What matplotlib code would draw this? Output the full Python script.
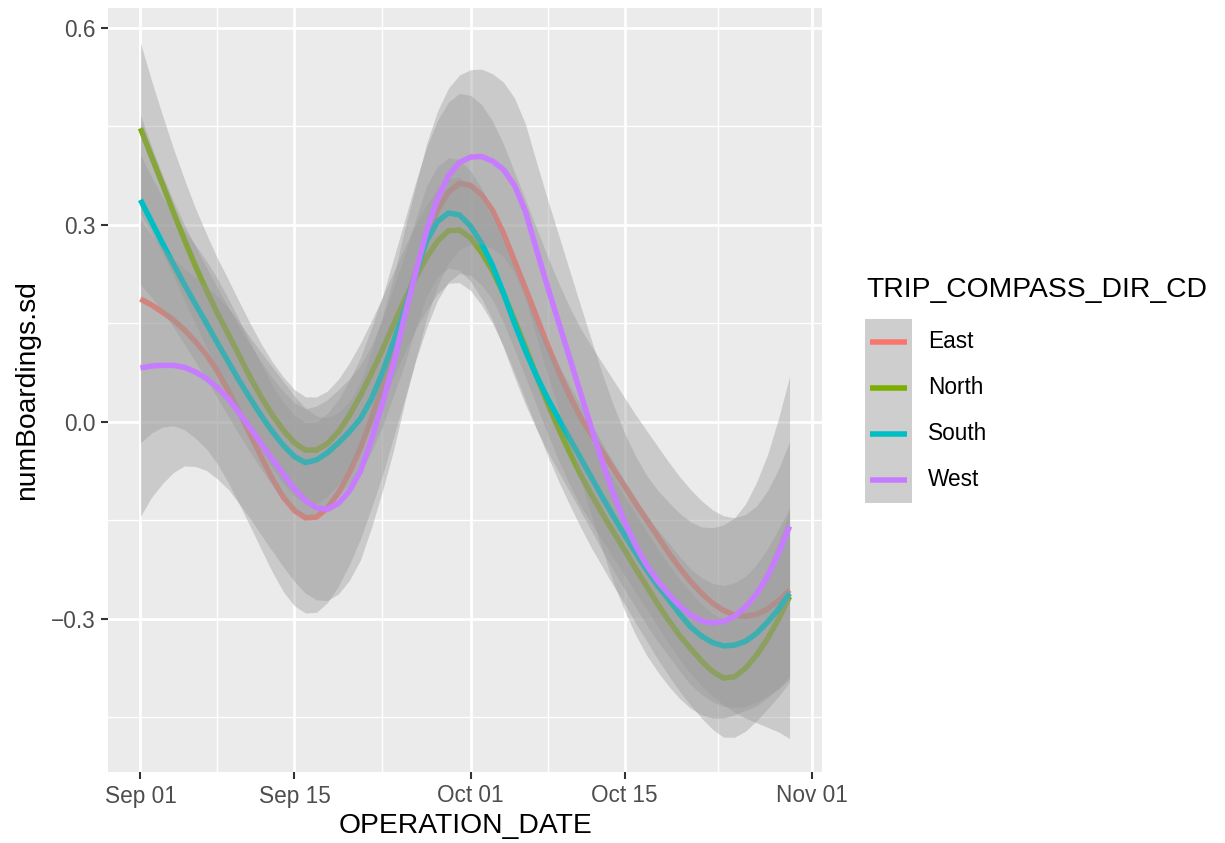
import numpy as np
import matplotlib.pyplot as plt
import matplotlib.dates as mdates
from matplotlib.patches import Rectangle

plt.rcParams['font.family'] = ['Liberation Sans', 'DejaVu Sans']

# one value per day, Sep 01 .. Oct 30
days = np.arange(60)

directions = ['East', 'North', 'South', 'West']
colors = ['#F8766D', '#7CAE00', '#00BFC4', '#C77CFF']

# loess fit of numBoardings.sd per direction
east_fit = [0.187, 0.178, 0.167, 0.155, 0.140, 0.122, 0.102, 0.077, 0.047, 0.014,
            -0.020, -0.054, -0.087, -0.115, -0.135, -0.146, -0.145, -0.131, -0.108, -0.077,
            -0.040, 0.006, 0.055, 0.112, 0.170, 0.228, 0.280, 0.322, 0.350, 0.363,
            0.360, 0.346, 0.322, 0.287, 0.245, 0.203, 0.160, 0.117, 0.077, 0.040,
            0.007, -0.020, -0.046, -0.072, -0.098, -0.124, -0.149, -0.174, -0.199, -0.222,
            -0.243, -0.261, -0.276, -0.287, -0.294, -0.296, -0.293, -0.285, -0.272, -0.256]
north_fit = [0.447, 0.404, 0.362, 0.319, 0.277, 0.237, 0.200, 0.165, 0.133, 0.100,
             0.067, 0.037, 0.010, -0.013, -0.032, -0.043, -0.043, -0.033, -0.015, 0.010,
             0.040, 0.074, 0.110, 0.148, 0.185, 0.220, 0.250, 0.275, 0.291, 0.292,
             0.280, 0.258, 0.230, 0.195, 0.155, 0.113, 0.070, 0.029, -0.010, -0.046,
             -0.080, -0.111, -0.140, -0.168, -0.195, -0.223, -0.250, -0.277, -0.302, -0.325,
             -0.345, -0.364, -0.380, -0.390, -0.388, -0.375, -0.355, -0.330, -0.300, -0.266]
south_fit = [0.338, 0.305, 0.272, 0.240, 0.209, 0.179, 0.150, 0.120, 0.091, 0.062,
             0.035, 0.009, -0.015, -0.036, -0.053, -0.062, -0.058, -0.047, -0.032, -0.015,
             0.005, 0.035, 0.075, 0.122, 0.170, 0.225, 0.275, 0.305, 0.318, 0.315,
             0.298, 0.272, 0.238, 0.196, 0.150, 0.108, 0.070, 0.036, 0.005, -0.025,
             -0.055, -0.085, -0.115, -0.144, -0.172, -0.199, -0.225, -0.249, -0.270, -0.292,
             -0.312, -0.326, -0.336, -0.341, -0.340, -0.334, -0.322, -0.305, -0.285, -0.261]
west_fit = [0.082, 0.085, 0.086, 0.086, 0.083, 0.076, 0.066, 0.052, 0.035, 0.013,
            -0.010, -0.034, -0.057, -0.080, -0.102, -0.120, -0.131, -0.133, -0.124, -0.105,
            -0.075, -0.027, 0.028, 0.088, 0.160, 0.226, 0.290, 0.340, 0.375, 0.395,
            0.403, 0.404, 0.397, 0.384, 0.360, 0.320, 0.262, 0.206, 0.152, 0.098,
            0.044, -0.010, -0.062, -0.110, -0.152, -0.188, -0.218, -0.242, -0.262, -0.280,
            -0.294, -0.303, -0.306, -0.304, -0.296, -0.282, -0.262, -0.235, -0.200, -0.159]

# half width of the 95% confidence band
east_ci = [0.219, 0.195, 0.175, 0.161, 0.152, 0.147, 0.143, 0.141, 0.140, 0.140,
           0.140, 0.141, 0.142, 0.144, 0.145, 0.145, 0.145, 0.144, 0.142, 0.140,
           0.138, 0.137, 0.136, 0.136, 0.136, 0.136, 0.137, 0.137, 0.137, 0.137,
           0.137, 0.137, 0.136, 0.136, 0.135, 0.135, 0.135, 0.135, 0.135, 0.135,
           0.135, 0.135, 0.135, 0.135, 0.135, 0.135, 0.136, 0.137, 0.138, 0.139,
           0.140, 0.141, 0.142, 0.144, 0.148, 0.155, 0.165, 0.180, 0.200, 0.226]
north_ci = [0.130, 0.116, 0.105, 0.097, 0.092, 0.088, 0.086, 0.084, 0.083, 0.082,
            0.082, 0.081, 0.081, 0.081, 0.081, 0.081, 0.081, 0.080, 0.080, 0.080,
            0.080, 0.080, 0.080, 0.080, 0.080, 0.080, 0.080, 0.080, 0.080, 0.080,
            0.080, 0.080, 0.080, 0.080, 0.080, 0.080, 0.080, 0.080, 0.080, 0.080,
            0.080, 0.081, 0.081, 0.082, 0.082, 0.083, 0.083, 0.084, 0.084, 0.085,
            0.086, 0.087, 0.088, 0.090, 0.092, 0.096, 0.100, 0.107, 0.118, 0.130]
south_ci = [0.129, 0.115, 0.104, 0.096, 0.091, 0.088, 0.085, 0.084, 0.083, 0.082,
            0.082, 0.082, 0.082, 0.082, 0.082, 0.082, 0.082, 0.081, 0.081, 0.081,
            0.081, 0.081, 0.082, 0.082, 0.083, 0.083, 0.084, 0.084, 0.084, 0.084,
            0.084, 0.084, 0.083, 0.083, 0.082, 0.082, 0.081, 0.081, 0.081, 0.081,
            0.081, 0.081, 0.082, 0.082, 0.083, 0.083, 0.084, 0.085, 0.086, 0.087,
            0.088, 0.089, 0.090, 0.092, 0.095, 0.099, 0.105, 0.112, 0.122, 0.130]
west_ci = [0.226, 0.200, 0.180, 0.163, 0.150, 0.144, 0.140, 0.139, 0.138, 0.138,
           0.138, 0.139, 0.140, 0.141, 0.141, 0.141, 0.140, 0.139, 0.138, 0.136,
           0.135, 0.134, 0.133, 0.132, 0.132, 0.132, 0.133, 0.133, 0.133, 0.133,
           0.133, 0.133, 0.133, 0.133, 0.133, 0.133, 0.133, 0.133, 0.133, 0.133,
           0.133, 0.134, 0.134, 0.135, 0.135, 0.136, 0.137, 0.138, 0.140, 0.141,
           0.142, 0.143, 0.145, 0.147, 0.150, 0.157, 0.170, 0.185, 0.205, 0.228]

y_ticks = [-0.3, 0.0, 0.3, 0.6]
y_ticklabels = ['\u22120.3', '0.0', '0.3', '0.6']
y_minor = [-0.45, -0.15, 0.15, 0.45]
x_ticks = ['2016-09-01', '2016-09-15', '2016-10-01', '2016-10-15', '2016-11-01']
x_ticklabels = ['Sep 01', 'Sep 15', 'Oct 01', 'Oct 15', 'Nov 01']
x_minor = ['2016-09-08', '2016-09-23', '2016-10-08', '2016-10-23T12:00']

start = np.datetime64('2016-09-01')
dates = start + days.astype('timedelta64[D]')
fits = [east_fit, north_fit, south_fit, west_fit]
cis = [east_ci, north_ci, south_ci, west_ci]

W, H = 1225, 843
fig = plt.figure(figsize=(W / 100, H / 100), dpi=100)
ax = fig.add_axes([108 / W, 1 - 772 / H, (822 - 108) / W, (772 - 8) / H])
ax.set_facecolor('#EBEBEB')
for s in ax.spines.values():
    s.set_visible(False)

# ribbon then line per group, so later ribbons wash over earlier lines
z = 3
for fit, ci, col in zip(fits, cis, colors):
    fit = np.array(fit)
    ci = np.array(ci)
    ax.fill_between(dates, fit - ci, fit + ci, color='#999999', alpha=0.4,
                    linewidth=0, zorder=z)
    ax.plot(dates, fit, color=col, lw=3.96, solid_capstyle='butt', zorder=z + 1)
    z += 2

x0 = mdates.date2num(start)
ax.set_xlim(x0 - 2.95, x0 + 59 + 2.95)
ax.set_ylim(-0.533, 0.630)

ax.set_xticks([mdates.date2num(np.datetime64(d)) for d in x_ticks])
ax.set_xticklabels(x_ticklabels)
ax.set_xticks([mdates.date2num(np.datetime64(d)) for d in x_minor], minor=True)
ax.set_yticks(y_ticks)
ax.set_yticklabels(y_ticklabels)
ax.set_yticks(y_minor, minor=True)

ax.set_axisbelow(True)
ax.grid(which='major', color='white', lw=1.97)
ax.grid(which='minor', color='white', lw=0.99)
ax.tick_params(which='major', length=5, width=1.5, color='#333333',
               labelsize=16.3, labelcolor='#4D4D4D', pad=4)
ax.tick_params(which='minor', length=0)

ax.set_xlabel('OPERATION_DATE', fontsize=20.3, labelpad=4)
ax.set_ylabel('numBoardings.sd', fontsize=20.3, labelpad=8)

# legend drawn in figure pixel space
lax = fig.add_axes([0, 0, 1, 1], facecolor='none')
lax.set_xlim(0, W)
lax.set_ylim(H, 0)
lax.axis('off')
lax.text(866, 290, 'TRIP_COMPASS_DIR_CD', fontsize=20.3, va='center', ha='left')
lax.add_patch(Rectangle((865, 319), 47, 184, facecolor='#CECECE', edgecolor='none'))
for i, (name, col) in enumerate(zip(directions, colors)):
    yk = 342 + 46 * i
    lax.plot([870, 907], [yk, yk], color=col, lw=3.96, solid_capstyle='butt')
    lax.text(928, yk, name, fontsize=16.3, va='center', ha='left')

fig.savefig('out.png', dpi=100)
